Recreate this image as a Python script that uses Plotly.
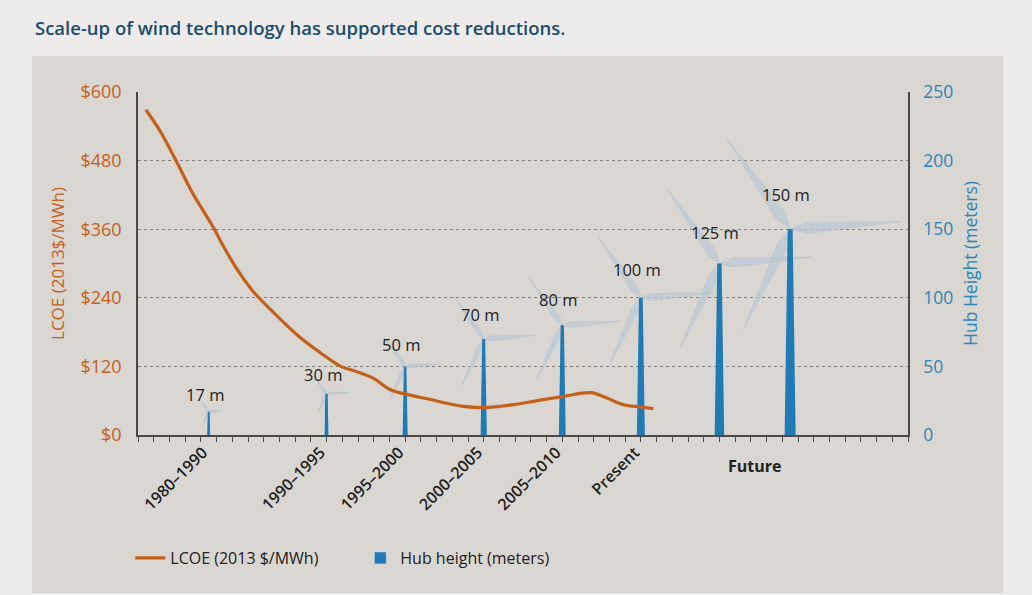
import math
import plotly.graph_objects as go

# LCOE curve (2013 $/MWh), by year
lcoe_years = [1978.5, 1979.4, 1980.4, 1981.5, 1982.8, 1983.4, 1984.3, 1985.3, 1986.6,
              1988.3, 1989.6, 1990.9, 1991.8, 1993.0, 1994.0, 1995.1, 1996.6, 1998.7,
              2000.0, 2001.9, 2003.4, 2005.0, 2006.8, 2007.8, 2008.9, 2010.0, 2010.8]
lcoe_values = [569, 532, 481, 422, 363, 332, 290, 252, 215,
               171, 144, 120, 112, 99, 80, 71, 62, 50,
               48, 53, 60, 67, 74, 65, 53, 49, 46]

# hub heights (m) per turbine generation
tower_years = [1982.5, 1990, 1995, 2000, 2005, 2010, 2015, 2019.5]
hub_heights = [17, 30, 50, 70, 80, 100, 125, 150]
hub_labels = ['17 m', '30 m', '50 m', '70 m', '80 m', '100 m', '125 m', '150 m']

period_ticks = [1982.5, 1990, 1995, 2000, 2005, 2010]
period_labels = ['1980–1990', '1990–1995', '1995–2000', '2000–2005', '2005–2010', 'Present']

ORANGE = '#c5601b'
BLUE = '#1f7ab6'
FONT = 'Open Sans'

W, H = 1032, 595
ML, MR, MT, MB = 138, 124, 92, 160
X_RANGE = [1978, 2027]
PX_YR = (W - ML - MR) / (X_RANGE[1] - X_RANGE[0])
PX_M = (H - MT - MB) / 250
pw, ph = W - ML - MR, H - MT - MB

fig = go.Figure()

# turbine blades (drawn first, behind towers)
for x0, h in zip(tower_years, hub_heights):
    blade_px = 0.54 * h * PX_M
    half_w = max(1.5, 0.05 * blade_px)
    for ang in (125, 4, 245):
        a = math.radians(ang)
        ux, uy = math.cos(a), math.sin(a)
        px_, py_ = -uy, ux
        pts = [(0, 0),
               (0.15 * blade_px * ux + half_w * px_, 0.15 * blade_px * uy + half_w * py_),
               (blade_px * ux, blade_px * uy),
               (0.15 * blade_px * ux - half_w * px_, 0.15 * blade_px * uy - half_w * py_),
               (0, 0)]
        fig.add_trace(go.Scatter(
            x=[x0 + p[0] / PX_YR for p in pts],
            y=[h + p[1] / PX_M for p in pts],
            mode='lines', fill='toself', line=dict(width=0.5, color='rgba(175,190,204,0.75)'),
            fillcolor='rgba(188,201,214,0.75)', hoverinfo='skip', showlegend=False,
            yaxis='y',
        ))

# tapered towers
for x0, h in zip(tower_years, hub_heights):
    base = (2 + 0.06 * h) / 2 / PX_YR
    top = (1.2 + 0.025 * h) / 2 / PX_YR
    fig.add_trace(go.Scatter(
        x=[x0 - base, x0 - top, x0 + top, x0 + base, x0 - base],
        y=[0, h, h, 0, 0],
        mode='lines', fill='toself', line=dict(width=0, color=BLUE),
        fillcolor=BLUE, hoverinfo='skip', showlegend=False, yaxis='y',
    ))

fig.add_trace(go.Bar(
    x=tower_years, y=hub_heights, width=0.15, marker_color=BLUE,
    name='Hub height (meters)', yaxis='y', legendrank=2,
))

fig.add_trace(go.Scatter(
    x=lcoe_years, y=lcoe_values, mode='lines', line=dict(color=ORANGE, width=3.2, shape='spline'),
    name='LCOE (2013 $/MWh)', yaxis='y2', legendrank=1,
))

for x0, h, lab in zip(tower_years, hub_heights, hub_labels):
    fig.add_annotation(x=x0, y=h, xref='x', yref='y', text=lab, showarrow=False,
                       yanchor='middle', yshift=15 + 0.13 * h, xshift=-4,
                       font=dict(family=FONT, size=16.5, color='#222222'))

fig.add_annotation(x=2017.25, y=(H - MB - 466) / ph, xref='x', yref='paper', text='<b>Future</b>',
                   showarrow=False, yanchor='middle',
                   font=dict(family=FONT, size=16, color='#222222'))

fig.add_annotation(x=(33 - ML) / pw, y=(H - MB - 28) / ph,
                   xref='paper', yref='paper', xanchor='left', yanchor='middle',
                   text='Scale-up of wind technology has supported cost reductions.',
                   showarrow=False, font=dict(family=FONT, size=18.5, color='#1b4c6e', weight=600))

fig.add_shape(type='rect', xref='paper', yref='paper', layer='below', line_width=0,
              fillcolor='#dad6d2',
              x0=(32 - ML) / pw, x1=(1003 - ML) / pw,
              y0=(H - MB - 593) / ph, y1=(H - MB - 56) / ph)

fig.update_layout(
    width=W, height=H,
    margin=dict(l=ML, r=MR, t=MT, b=MB),
    paper_bgcolor='#eeecea', plot_bgcolor='rgba(0,0,0,0)',
    font=dict(family=FONT, color='#222222'),
    bargap=0,
    xaxis=dict(
        range=X_RANGE, tickmode='array', tickvals=period_ticks, ticktext=period_labels,
        tickangle=-45, ticks='', showgrid=False, zeroline=False,
        showline=True, linecolor='#4a4a4a', linewidth=2,
        ticklabelshift=-6,
        tickfont=dict(family=FONT, size=16, color='#222222', weight=600),
        minor=dict(tick0=1978, dtick=1, ticks='outside', ticklen=5, tickcolor='#4a4a4a',
                   showgrid=False),
    ),
    yaxis=dict(
        range=[0, 250], side='right', tickvals=[0, 50, 100, 150, 200, 250],
        showgrid=True, gridcolor='#85817d', griddash='dot', gridwidth=1,
        zeroline=False, showline=True, linecolor='#4a4a4a', linewidth=1.5,
        ticks='', ticklabelstandoff=10, tickfont=dict(family=FONT, size=17.5, color='#2a86bb'),
        title=dict(text='Hub Height (meters)', font=dict(family=FONT, size=17.5, color='#2a86bb'),
                   standoff=12),
        automargin=False,
    ),
    yaxis2=dict(
        range=[0, 600], side='left', overlaying='y', tickvals=[0, 120, 240, 360, 480, 600],
        ticktext=['$0', '$120', '$240', '$360', '$480', '$600'],
        showgrid=False, zeroline=False, showline=True, linecolor='#4a4a4a', linewidth=1.5,
        ticks='', ticklabelstandoff=11, tickfont=dict(family=FONT, size=18, color=ORANGE),
        title=dict(text='LCOE (2013$/MWh)', font=dict(family=FONT, size=17, color=ORANGE),
                   standoff=12),
        automargin=False,
    ),
    showlegend=True,
    legend=dict(orientation='h', x=-0.01, y=(H - MB - 558) / ph, xanchor='left', yanchor='middle',
                bgcolor='rgba(0,0,0,0)', font=dict(family=FONT, size=16, color='#222222'),
                itemwidth=30, entrywidth=185),
)

fig.write_html('out.html', config={'displayModeBar': False},
               post_script="document.body.style.margin='0';")
